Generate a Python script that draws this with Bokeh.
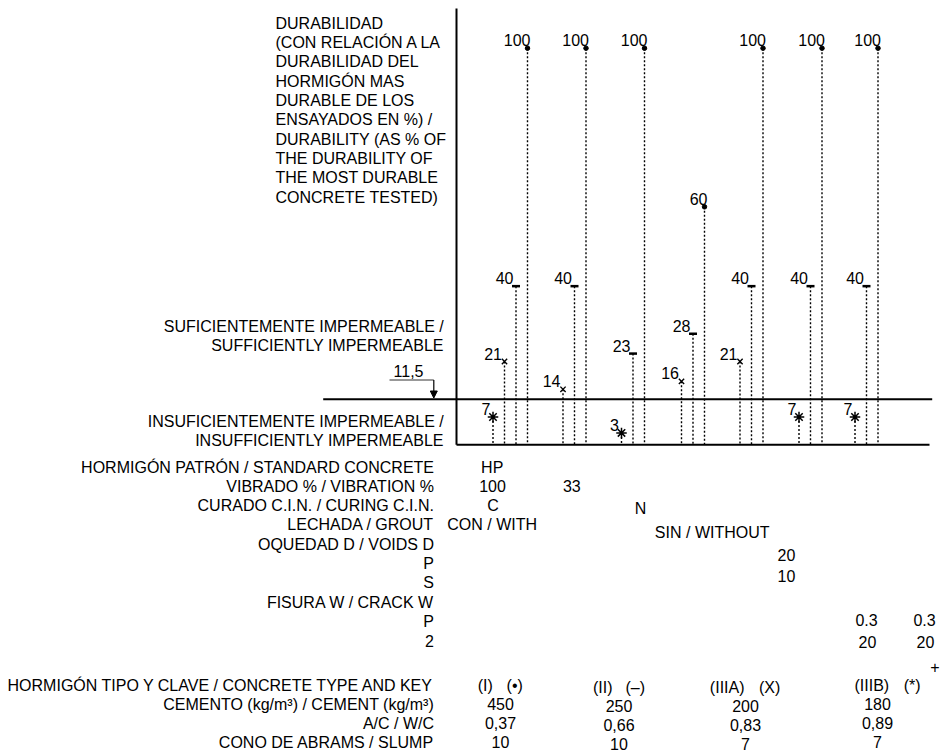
from bokeh.plotting import figure
from bokeh.models import Range1d, Arrow, NormalHead, ColumnDataSource
from bokeh.core.properties import value
from bokeh.embed import file_html
from bokeh.resources import INLINE

# ---------------- data ----------------
conditions = ["HP", "VIB 33", "CUR N", "SIN", "VOIDS", "CRACK 1", "CRACK 2"]
dur_I = [100, 100, 100, 60, 100, 100, 100]        # (I)    key (•)
dur_II = [40, 40, 23, 28, 40, 40, 40]             # (II)   key (–)
dur_IIIA = [21, 14, None, 16, 21, None, None]     # (IIIA) key (X)
dur_IIIB = [7, None, 3, None, None, 7, 7]         # (IIIB) key (*)
threshold = 11.5
threshold_label = "11,5"

title_lines = [
    "DURABILIDAD",
    "(CON RELACIÓN A LA",
    "DURABILIDAD DEL",
    "HORMIGÓN MAS",
    "DURABLE DE LOS",
    "ENSAYADOS EN %) /",
    "DURABILITY (AS % OF",
    "THE DURABILITY OF",
    "THE MOST DURABLE",
    "CONCRETE TESTED)",
]
upper_zone = ["SUFICIENTEMENTE IMPERMEABLE /", "SUFFICIENTLY IMPERMEABLE"]
lower_zone = ["INSUFICIENTEMENTE IMPERMEABLE /", "INSUFFICIENTLY IMPERMEABLE"]

row_labels_1 = [
    "HORMIGÓN PATRÓN / STANDARD CONCRETE",
    "VIBRADO % / VIBRATION %",
    "CURADO C.I.N. / CURING C.I.N.",
    "LECHADA / GROUT",
    "OQUEDAD D / VOIDS D",
    "P",
    "S",
    "FISURA W / CRACK W",
    "P",
    "2",
]
row_labels_2 = [
    "HORMIGÓN TIPO Y CLAVE / CONCRETE TYPE AND KEY",
    "CEMENTO (kg/m³) / CEMENT (kg/m³)",
    "A/C / W/C",
    "CONO DE ABRAMS / SLUMP",
]

cond_texts = ["HP", "100", "33", "C", "N", "CON / WITH", "SIN / WITHOUT",
              "20", "10", "0.3", "0.3", "20", "20", "+"]

type_names = ["(I)", "(II)", "(IIIA)", "(IIIB)"]
type_keys = ["(•)", "(–)", "(X)", "(*)"]
cement = ["450", "250", "200", "180"]
wc_ratio = ["0,37", "0,66", "0,83", "0,89"]
slump = ["10", "10", "7", "7"]

# ---------------- layout ----------------
W, H = 947, 753
Y0_PX = 444.3          # screen row of durability 0
PX_PER_UNIT = 3.966    # screen px per durability unit
AXIS_TOP = 110
group_x0 = [492.5, 562.5, 621, 681, 739.5, 798.5, 854.5]
STEP = 11.5
FONT = value("Liberation Sans")
FS = "16px"
YFIX = -5              # baseline correction (screen px)

p = figure(width=W, height=H, x_range=Range1d(0, W), y_range=Range1d(H, 0),
           output_backend="svg", toolbar_location=None, min_border=0,
           x_axis_location=None, y_axis_location=None)
p.grid.visible = False
p.outline_line_color = None
p.background_fill_color = "white"
p.border_fill_color = "white"
p.extra_y_ranges = {"dur": Range1d(-(H - Y0_PX) / PX_PER_UNIT, Y0_PX / PX_PER_UNIT)}


def txt(xs, ys, texts, align="left", rng="default"):
    p.text(x=xs, y=ys, text=texts, text_font=FONT, text_font_size=FS,
           text_align=align, text_baseline="alphabetic", text_color="black",
           y_offset=YFIX, y_range_name=rng)


# stems
series = [("asterisk", dur_IIIB), ("x", dur_IIIA), ("dash", dur_II), ("circle", dur_I)]
stems = {m: {"x": [], "v": []} for m, _ in series}
for g in range(len(conditions)):
    k = 0
    for m, vals in series:
        v = vals[g]
        if v is None:
            continue
        stems[m]["x"].append(group_x0[g] + k * STEP)
        stems[m]["v"].append(v)
        k += 1

all_x = sum((stems[m]["x"] for m, _ in series), [])
all_v = sum((stems[m]["v"] for m, _ in series), [])
p.segment(x0=all_x, y0=all_v, x1=all_x, y1=[0] * len(all_x), line_color="black",
          line_width=1.4, line_dash="2 2", y_range_name="dur")

p.scatter(stems["circle"]["x"], stems["circle"]["v"], marker="circle", size=4.5,
          fill_color="black", line_color="black", y_range_name="dur")
p.scatter(stems["dash"]["x"], stems["dash"]["v"], marker="dash", size=8,
          line_color="black", line_width=2.5, y_range_name="dur")
p.scatter(stems["x"]["x"], stems["x"]["v"], marker="x", size=7.5,
          line_color="black", line_width=1.4, y_range_name="dur")
p.scatter(stems["asterisk"]["x"], stems["asterisk"]["v"], marker="asterisk", size=10.5,
          line_color="black", line_width=1.5, y_range_name="dur")

# value labels
for m, _ in series:
    dx = 3 if m == "circle" else -2.5
    src = ColumnDataSource(dict(x=[x + dx for x in stems[m]["x"]], y=stems[m]["v"],
                                t=[str(v) for v in stems[m]["v"]]))
    p.text(x="x", y="y", text="t", source=src, text_font=FONT, text_font_size=FS,
           text_align="right", text_baseline="alphabetic", y_offset=YFIX - 3,
           text_color="black", y_range_name="dur")

# frame lines
p.segment(x0=[456], y0=[AXIS_TOP], x1=[456], y1=[0], line_color="black",
          line_width=2, y_range_name="dur")
p.segment(x0=[322.7], y0=[threshold], x1=[931.7], y1=[threshold], line_color="black",
          line_width=2, y_range_name="dur")
p.segment(x0=[456], y0=[0], x1=[929], y1=[0], line_color="black",
          line_width=2, y_range_name="dur")

# threshold pointer
p.segment(x0=[389], y0=[379.5], x1=[433.3], y1=[379.5], line_color="#333333", line_width=1)
p.add_layout(Arrow(x_start=433.3, y_start=379.5, x_end=433.3, y_end=397.5,
                   line_color="black", line_width=1.2,
                   end=NormalHead(size=7, fill_color="black", line_color="black")))
txt([408], [375], [threshold_label], align="center")

# left texts
txt([275] * len(title_lines), [27.5 + 19.35 * i for i in range(len(title_lines))], title_lines)
txt([443.3, 443.3], [331, 350], upper_zone, align="right")
txt([443.3, 443.3], [426, 445], lower_zone, align="right")

row_y1 = [471.7, 490.7, 510, 529.3, 548.5, 567.7, 587, 606.5, 626, 645.3]
txt([433.5] * len(row_labels_1), row_y1, row_labels_1, align="right")
row_y2 = [689.5, 708.5, 727.7, 746.5]
txt([433.5] * len(row_labels_2), row_y2, row_labels_2, align="right")

# condition values
cond_x = [491.7, 492, 571.3, 492.5, 640, 491.7, 711.7, 786, 786, 866, 924, 867, 925, 934.3]
cond_y = [471.7, 490.7, 490.7, 510, 513.3, 529.3, 536.7, 559.3, 580, 624.3, 624.3, 646, 646, 671]
txt(cond_x, cond_y, cond_texts, align="center")

# concrete types table
txt([484.8, 602.2, 726.7, 871.3], [690, 691.7, 691.7, 690], type_names, align="center")
txt([514.2, 634.7, 769.2, 911.7], [690, 691.7, 691.7, 690], type_keys, align="center")
col_x = [500, 618.5, 745, 877]
txt(col_x, [708.3, 710, 710, 708.3], cement, align="center")
txt(col_x, [727.3, 729.3, 729.3, 727.3], wc_ratio, align="center")
txt(col_x, [746.5, 748, 748, 746.5], slump, align="center")

open("out.html", "w").write(file_html(p, INLINE))
